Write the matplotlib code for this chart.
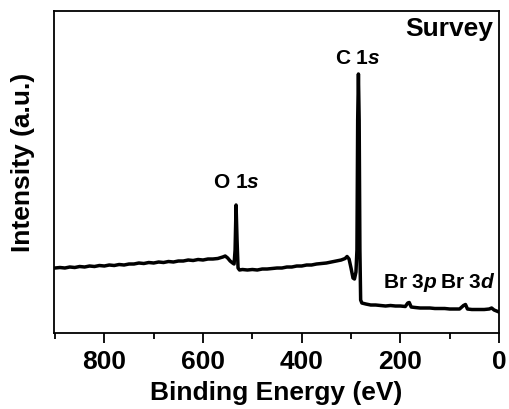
import matplotlib
matplotlib.use("Agg")
import matplotlib.pyplot as plt
from matplotlib.ticker import MultipleLocator

# XPS survey spectrum (binding energy in eV, intensity in a.u.)
binding_energy = [
    900, 890, 880, 870, 860, 850, 840, 830, 820, 810, 800, 790, 780, 770, 760,
    750, 740, 730, 720, 710, 700, 690, 680, 670, 660, 650, 640, 630, 620, 610,
    600, 590, 580, 570, 560, 555, 550, 545, 540, 537, 535, 533, 531, 529, 526,
    520, 510, 500, 490, 480, 470, 460, 450, 440, 430, 420, 410, 400, 390, 380,
    370, 360, 350, 340, 330, 320, 312, 308, 304, 300, 296, 293, 290, 288, 286.5,
    285, 283.5, 282, 280.5, 278, 270, 260, 250, 240, 230, 220, 210, 200, 190,
    185, 182, 178, 170, 160, 150, 140, 130, 120, 110, 100, 90, 80, 72, 68,
    64, 55, 40, 30, 20, 15, 10, 5, 0,
]
intensity = [
    65, 65.5, 65, 66, 65.5, 66.5, 66, 67, 66.5, 67.5, 67, 68, 67.5, 68.5, 68,
    69, 69, 70, 69.5, 70.5, 70, 71, 70.5, 71.5, 71, 72, 72, 73, 72.5, 73.5,
    73, 74, 74, 74.5, 76, 77, 75, 72, 70, 69, 83, 128, 93, 65, 63,
    63.5, 63, 63.5, 63, 64, 64, 64.5, 65, 65, 66, 66, 67, 67, 68, 68,
    69, 69.5, 70, 71, 72, 73, 74.5, 76.5, 74, 65, 55, 54, 61, 83, 213,
    259, 213, 83, 33, 30, 29, 28, 28, 27.5, 27, 27.5, 27, 27, 26.5,
    30, 30.5, 26, 25.5, 25, 25, 25, 24.5, 24.5, 24.5, 24, 24, 24, 27.5, 28.5,
    24, 23.5, 23.5, 23.5, 24, 25, 23, 22, 21,
]

peak_labels = ["O 1$s$", "C 1$s$", "Br 3$p$", "Br 3$d$"]
peak_label_x = [533, 287, 180, 64]
peak_label_y = [145, 269, 45, 45]

plt.rcParams["font.family"] = "Liberation Sans"
plt.rcParams["font.weight"] = "bold"
plt.rcParams["mathtext.fontset"] = "custom"
plt.rcParams["mathtext.rm"] = "Liberation Sans:bold"
plt.rcParams["mathtext.it"] = "Liberation Sans:bold:italic"

fig = plt.figure(figsize=(5.1, 4.09), dpi=100)
ax = fig.add_axes([0.1059, 0.1858, 0.8726, 0.7873])

ax.plot(binding_energy, intensity, color="black", lw=2.5, solid_joinstyle="round")

ax.set_xlim(902, 0)
ax.set_ylim(0, 322)
ax.xaxis.set_major_locator(MultipleLocator(200))
ax.xaxis.set_minor_locator(MultipleLocator(100))
ax.tick_params(axis="x", which="major", direction="out", length=7, width=1.3,
               labelsize=19, pad=5, top=False)
ax.tick_params(axis="x", which="minor", direction="out", length=4, width=1.3, top=False)
ax.set_yticks([])
for s in ax.spines.values():
    s.set_linewidth(1.3)

ax.set_xlabel("Binding Energy (eV)", fontsize=19, fontweight="bold", labelpad=5)
ax.set_ylabel("Intensity (a.u.)", fontsize=19, fontweight="bold")
ax.yaxis.set_label_coords(-0.043, 0.531)

ax.text(0.9865, 0.981, "Survey", transform=ax.transAxes, ha="right", va="top",
        fontsize=19, fontweight="bold")

for lab, x, y in zip(peak_labels, peak_label_x, peak_label_y):
    ax.text(x, y, lab, ha="center", va="baseline", fontsize=15, fontweight="bold")

fig.savefig("out.png", dpi=100)
